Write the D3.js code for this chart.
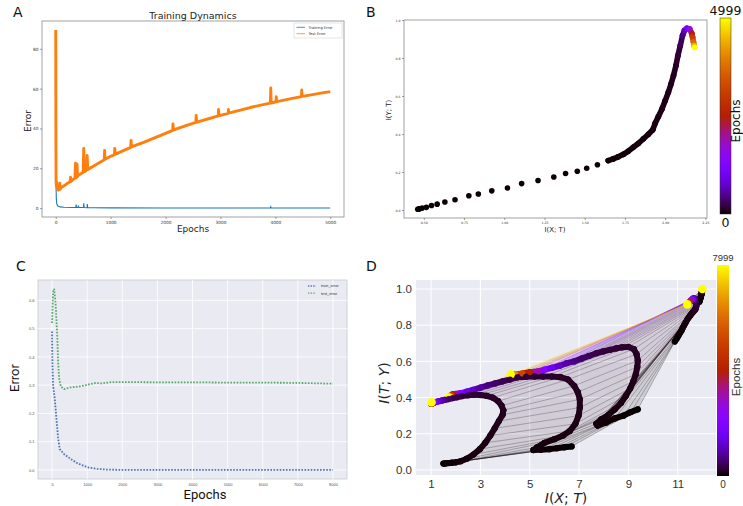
<!DOCTYPE html>
<html><head><meta charset="utf-8">
<script src="https://cdn.jsdelivr.net/npm/d3@7"></script>
<style>body{margin:0;background:#fff}svg{display:block}</style>
</head><body>
<svg id="c" width="743" height="506"></svg>
<script>
// ---------------- DATA ----------------
// Panel A: training dynamics (epoch, error)
const aXTicks = [0,1000,2000,3000,4000,5000];
const aYTicks = [0,20,40,60,80];
const trainErrA = [[0,78],[3,30],[6,12],[10,5],[20,2],[40,1],[80,0.6],[150,0.4],[300,0.3],[365,0.3],[372,1.8],[380,0.4],[405,0.3],[412,1.2],[420,0.3],[505,0.3],[511,2.4],[517,0.3],[570,0.2],[576,2.0],[582,0.2],[700,0.15],[1000,0.1],[2000,0.05],[3910,0.05],[3916,0.6],[3922,0.05],[5000,0.03]];
const testErrA = [[0,89.5],[3,40],[6,14],[12,11],[18,13],[25,10],[50,9],[70,9.4],[75,12.5],[80,9.5],[100,10.3],[150,11.2],[200,12.2],[260,13.2],[270,15.5],[280,13.4],[300,14],[350,15.1],[360,22.5],[368,15.2],[380,15.5],[388,22],[396,15.8],[400,16.3],[450,17.1],[500,18],[510,30],[520,18.3],[560,19],[572,26.5],[584,19.3],[600,19.7],[700,21.3],[800,22.9],[885,24.3],[890,29],[898,24.5],[1000,26],[1070,26.8],[1075,30],[1082,27],[1200,28.5],[1365,30.5],[1372,34],[1380,30.8],[1400,31],[1600,33],[1800,35.3],[2000,37.5],[2130,39],[2136,42.3],[2144,39.2],[2200,39.8],[2400,41.7],[2552,43],[2558,46.5],[2565,43.1],[2600,43.4],[2800,45],[2960,46.3],[2965,49.5],[2972,46.5],[3000,46.6],[3140,47.6],[3146,49.5],[3152,47.8],[3200,48.1],[3400,49.5],[3600,50.9],[3800,52.1],[3910,52.7],[3916,60.3],[3923,52.8],[4000,53.3],[4010,53.4],[4016,56],[4022,53.5],[4200,54.5],[4400,55.6],[4475,56],[4480,59.3],[4486,56.1],[4600,56.6],[4800,57.6],[5000,58.5]];

// Panel B: information plane (I(X;T), I(Y;T), epoch)
const bXTicks = [0.5,0.75,1.0,1.25,1.5,1.75,2.0,2.25];
const bYTicks = [0,0.2,0.4,0.6,0.8,1.0];
const bSparse = [[0.4625,0.004,0],[0.4675,0.005,1],[0.472,0.006,2],[0.49,0.01,3],[0.516,0.014,4],[0.548,0.024,5],[0.583,0.031,6],[0.631,0.042,7],[0.694,0.054,8],[0.78,0.075,9],[0.839,0.084,10],[0.9225,0.101,11],[1.02,0.116,12],[1.108,0.139,13],[1.21,0.155,14],[1.308,0.174,15],[1.381,0.192,16],[1.454,0.204,17],[1.5125,0.22,18],[1.579,0.238,20]];
const bDense = [[1.646,0.26,22],[1.677,0.269,24],[1.708,0.28,26],[1.74,0.293,28],[1.77,0.309,30],[1.802,0.33,33],[1.833,0.35,36],[1.865,0.375,40],[1.896,0.399,44],[1.923,0.422,48],[1.938,0.457,53],[1.958,0.492,58],[1.98,0.531,64],[2.0,0.575,70],[2.02,0.62,78],[2.037,0.664,88],[2.052,0.708,100],[2.067,0.76,130],[2.079,0.812,180],[2.094,0.865,260],[2.108,0.918,420],[2.12,0.945,700],[2.135,0.956,1150],[2.152,0.953,1700],[2.165,0.93,2500],[2.17,0.91,3100],[2.176,0.885,3700],[2.18,0.865,4400],[2.183,0.856,4999]];
const bMaxEpoch = 4999;

// Panel C: error curves (epoch, error)
const cXTicks = [0,1000,2000,3000,4000,5000,6000,7000,8000];
const cYTicks = [0,0.1,0.2,0.3,0.4,0.5,0.6];
const trainErrC = [[0,0.49],[10,0.384],[28,0.30],[75,0.255],[123,0.185],[171,0.115],[218,0.074],[342,0.056],[533,0.0386],[724,0.0235],[1010,0.0095],[1295,0.0035],[1580,0.0012],[2000,0.0003],[3000,0],[4000,0],[5000,0],[6000,0],[7000,0],[8000,0]];
const testErrC = [[0,0.52],[30,0.63],[60,0.641],[100,0.59],[130,0.52],[150,0.47],[170,0.39],[200,0.325],[250,0.295],[340,0.286],[530,0.292],[820,0.296],[1100,0.304],[1250,0.308],[1400,0.306],[1700,0.311],[2000,0.311],[3000,0.31],[4000,0.31],[5000,0.309],[6000,0.309],[7000,0.308],[8000,0.305]];

// Panel D: per-layer information plane trajectories (I(X;T), I(T;Y)) at shared epochs
const dXTicks = [1,3,5,7,9,11];
const dYTicks = [0,0.2,0.4,0.6,0.8,1.0];
const dMaxEpoch = 7999;
const epochsD = [0,8,16,24,32,40,50,60,70,80,90,100,112,125,140,155,170,185,200,220,240,260,285,320,380,460,560,700,900,1200,1600,2200,3000,4000,5200,6500,7999];
const layer1 = [[11.88,0.93],[11.89,0.935],[11.9,0.94],[11.91,0.945],[11.92,0.95],[11.93,0.955],[11.94,0.96],[11.95,0.965],[11.96,0.97],[11.97,0.975],[11.97,0.98],[11.98,0.984],[11.98,0.987],[11.99,0.99],[11.99,0.992],[11.99,0.994],[12.0,0.995],[12.0,0.996],[12.0,0.997],[12.0,0.998],[12.0,0.998],[12.0,0.999],[12.0,0.999],[12.0,1.0],[12.0,1.0],[12.0,1.0],[12.0,1.0],[12.0,1.0],[12.0,1.0],[12.0,1.0],[12.0,1.0],[12.0,1.0],[12.0,1.0],[12.0,1.0],[12.0,1.0],[12.0,1.0],[12.0,1.0]];
const layer2 = [[10.88,0.71],[10.95,0.725],[11.02,0.74],[11.08,0.755],[11.15,0.77],[11.2,0.785],[11.26,0.8],[11.32,0.815],[11.38,0.83],[11.44,0.842],[11.5,0.853],[11.55,0.862],[11.6,0.87],[11.64,0.876],[11.67,0.881],[11.7,0.886],[11.72,0.89],[11.73,0.895],[11.74,0.9],[11.75,0.905],[11.75,0.91],[11.75,0.915],[11.74,0.92],[11.73,0.925],[11.72,0.93],[11.71,0.935],[11.7,0.94],[11.68,0.945],[11.66,0.948],[11.63,0.948],[11.6,0.945],[11.56,0.94],[11.52,0.935],[11.48,0.928],[11.44,0.922],[11.41,0.918],[11.39,0.915]];
const layer3 = [[9.38,0.335],[9.1,0.32],[8.8,0.3],[8.45,0.285],[8.1,0.262],[7.75,0.245],[7.7,0.255],[7.9,0.28],[8.2,0.305],[8.45,0.335],[8.7,0.37],[8.9,0.41],[9.07,0.45],[9.2,0.49],[9.3,0.53],[9.36,0.57],[9.38,0.605],[9.33,0.64],[9.22,0.668],[9.0,0.68],[8.75,0.678],[8.5,0.672],[8.25,0.664],[7.98,0.655],[7.7,0.645],[7.4,0.63],[7.1,0.615],[6.8,0.6],[6.5,0.59],[6.2,0.575],[5.9,0.565],[5.6,0.555],[5.35,0.545],[5.0,0.54],[4.7,0.533],[4.4,0.528],[4.23,0.528]];
const layer4 = [[6.7,0.13],[6.4,0.125],[6.1,0.12],[5.8,0.115],[5.45,0.112],[5.15,0.11],[5.3,0.125],[5.6,0.15],[6.0,0.17],[6.35,0.19],[6.62,0.215],[6.85,0.255],[6.98,0.3],[7.03,0.345],[7.03,0.39],[6.95,0.43],[6.8,0.465],[6.55,0.5],[6.25,0.513],[5.9,0.516],[5.55,0.516],[5.2,0.516],[4.85,0.515],[4.5,0.512],[4.2,0.5],[3.9,0.49],[3.6,0.478],[3.3,0.467],[3.0,0.455],[2.7,0.443],[2.45,0.433],[2.2,0.425],[2.0,0.42],[1.88,0.418],[1.82,0.413],[1.77,0.405],[1.73,0.40]];
const layer5 = [[1.5,0.035],[1.55,0.035],[1.62,0.037],[1.72,0.038],[1.85,0.04],[2.0,0.042],[2.2,0.048],[2.45,0.062],[2.72,0.085],[2.98,0.115],[3.2,0.15],[3.4,0.19],[3.58,0.23],[3.75,0.27],[3.9,0.305],[3.93,0.33],[3.86,0.355],[3.72,0.38],[3.5,0.4],[3.25,0.41],[3.0,0.414],[2.75,0.415],[2.5,0.413],[2.25,0.408],[2.05,0.402],[1.88,0.397],[1.72,0.392],[1.58,0.388],[1.45,0.384],[1.33,0.38],[1.22,0.376],[1.13,0.372],[1.06,0.368],[1.02,0.365],[1.0,0.366],[1.01,0.37],[1.02,0.374]];

// ---------------- HELPERS ----------------
function gnuplot(t){
  t = Math.max(0, Math.min(1, t));
  const r = Math.sqrt(t), g = t*t*t, b = Math.max(0, Math.sin(2*Math.PI*t));
  return d3.rgb(r*255, g*255, b*255).formatHex();
}
const svg = d3.select("#c");
const defs = svg.append("defs");
function gradient(id){
  const g = defs.append("linearGradient").attr("id", id).attr("x1",0).attr("y1",1).attr("x2",0).attr("y2",0);
  d3.range(0, 1.0001, 0.02).forEach(t => g.append("stop").attr("offset", t).attr("stop-color", gnuplot(t)));
}
gradient("gnuB"); gradient("gnuD");
function clip(id, x, y, w, h){ defs.append("clipPath").attr("id", id).append("rect").attr("x",x).attr("y",y).attr("width",w).attr("height",h); }
function styleAxis(g, size, family, fill){
  g.select(".domain").remove();
  g.selectAll("text").attr("font-size", size).attr("font-family", family).attr("fill", fill);
  g.selectAll("line").attr("stroke", "#444").attr("stroke-width", 0.5);
}
function txt(x, y, s, size, opts={}){
  const t = svg.append("text").attr("x", x).attr("y", y).text(s)
    .attr("font-size", size).attr("font-family", opts.family || "DejaVu Sans")
    .attr("fill", opts.fill || "#111").attr("text-anchor", opts.anchor || "start");
  if (opts.rotate !== undefined) t.attr("transform", `rotate(${opts.rotate},${x},${y})`);
  return t;
}

// ---------------- PANEL A ----------------
{
  const L=42, R=344, T=21, B=217;
  const x = d3.scaleLinear().domain([-250,5250]).range([L,R]);
  const y = d3.scaleLinear().domain([-4.47,93.97]).range([B,T]);
  clip("clipA", L, T, R-L, B-T);
  const line = d3.line().x(d=>x(d[0])).y(d=>y(d[1]));
  const g = svg.append("g").attr("clip-path","url(#clipA)");
  g.append("path").datum(trainErrA).attr("d", line).attr("fill","none").attr("stroke","#1f77b4").attr("stroke-width",1.1);
  g.append("path").datum(testErrA).attr("d", line).attr("fill","none").attr("stroke","#ff7f0e").attr("stroke-width",2.9).attr("stroke-linejoin","round");
  svg.append("rect").attr("x",L).attr("y",T).attr("width",R-L).attr("height",B-T).attr("fill","none").attr("stroke","#8a8a8a").attr("stroke-width",0.8);
  const ax = svg.append("g").attr("transform",`translate(0,${B})`).call(d3.axisBottom(x).tickValues(aXTicks).tickSize(2).tickPadding(1.5).tickFormat(d3.format("d")));
  styleAxis(ax, 4.3, "DejaVu Sans", "#333");
  const ay = svg.append("g").attr("transform",`translate(${L},0)`).call(d3.axisLeft(y).tickValues(aYTicks).tickSize(2).tickPadding(1.5).tickFormat(d3.format("d")));
  styleAxis(ay, 4.3, "DejaVu Sans", "#333");
  txt(193, 19, "Training Dynamics", 9.5, {anchor:"middle", fill:"#222"});
  txt(193, 232, "Epochs", 9, {anchor:"middle", fill:"#222"});
  txt(30.5, 121, "Error", 9, {anchor:"middle", fill:"#222", rotate:-90});
  txt(13, 17, "A", 14);
  // legend
  svg.append("rect").attr("x",294).attr("y",23).attr("width",48).attr("height",15).attr("fill","#fff").attr("stroke","#ccc").attr("stroke-width",0.5);
  const items = [["Training Error","#1f77b4"],["Test Error","#ff7f0e"]];
  items.forEach((it,i)=>{
    const yy = 27.3 + i*6.4;
    svg.append("line").attr("x1",296.5).attr("x2",305).attr("y1",yy).attr("y2",yy).attr("stroke",it[1]).attr("stroke-width",0.8);
    txt(308.5, yy+1.2, it[0], 3.6, {fill:"#333"});
  });
}

// ---------------- PANEL B ----------------
{
  const L=404, R=707, T=20, B=218;
  const x = d3.scaleLinear().domain([0.377,2.26]).range([L,R]);
  const y = d3.scaleLinear().domain([-0.042,1.0]).range([B,T]);
  const col = d3.scaleLinear().domain([0,bMaxEpoch]).range([0,1]);
  svg.append("rect").attr("x",L).attr("y",T).attr("width",R-L).attr("height",B-T).attr("fill","none").attr("stroke","#8a8a8a").attr("stroke-width",0.8);
  const ax = svg.append("g").attr("transform",`translate(0,${B})`).call(d3.axisBottom(x).tickValues(bXTicks).tickSize(2).tickPadding(1.5).tickFormat(d3.format(".2f")));
  styleAxis(ax, 3.2, "DejaVu Sans", "#333");
  const ay = svg.append("g").attr("transform",`translate(${L},0)`).call(d3.axisLeft(y).tickValues(bYTicks).tickSize(2).tickPadding(1.5).tickFormat(d3.format(".1f")));
  styleAxis(ay, 3.2, "DejaVu Sans", "#333");
  const g = svg.append("g");
  g.append("g").selectAll("circle").data(bSparse).join("circle").attr("cx",d=>x(d[0])).attr("cy",d=>y(d[1])).attr("r",2.8).attr("fill",d=>gnuplot(col(d[2])));
  const segs = d3.pairs(bDense);
  g.append("g").selectAll("line").data(segs).join("line")
    .attr("x1",d=>x(d[0][0])).attr("y1",d=>y(d[0][1])).attr("x2",d=>x(d[1][0])).attr("y2",d=>y(d[1][1]))
    .attr("stroke",d=>gnuplot(col(d[0][2]))).attr("stroke-width",5.6).attr("stroke-linecap","round");
  g.append("g").selectAll("circle").data(bDense).join("circle").attr("cx",d=>x(d[0])).attr("cy",d=>y(d[1])).attr("r",2.8).attr("fill",d=>gnuplot(col(d[2])));
  txt(555, 232, "I(X; T)", 7, {anchor:"middle", fill:"#222"});
  txt(391, 110, "I(Y; T)", 7, {anchor:"middle", fill:"#222", rotate:-90});
  txt(366, 17, "B", 14);
  // colorbar
  svg.append("rect").attr("x",720).attr("y",18).attr("width",11).attr("height",196).attr("fill","url(#gnuB)").attr("stroke","#333").attr("stroke-width",0.5);
  txt(725.5, 15, String(bMaxEpoch), 12.5, {anchor:"middle"});
  txt(725.5, 227, "0", 12.5, {anchor:"middle"});
  txt(740, 121, "Epochs", 12, {anchor:"middle", rotate:-90});
}

// ---------------- PANEL C ----------------
{
  const L=38, R=347, T=280, B=479;
  const x = d3.scaleLinear().domain([-400,8400]).range([L,R]);
  const y = d3.scaleLinear().domain([-0.032,0.672]).range([B,T]);
  svg.append("rect").attr("x",L).attr("y",T).attr("width",R-L).attr("height",B-T).attr("fill","#eaeaf2").attr("stroke","#c8c8cc").attr("stroke-width",0.8);
  const grid = svg.append("g").attr("stroke","#fff").attr("stroke-width",0.8);
  cXTicks.forEach(v=>grid.append("line").attr("x1",x(v)).attr("x2",x(v)).attr("y1",T).attr("y2",B));
  cYTicks.forEach(v=>grid.append("line").attr("y1",y(v)).attr("y2",y(v)).attr("x1",L).attr("x2",R));
  const ax = svg.append("g").attr("transform",`translate(0,${B})`).call(d3.axisBottom(x).tickValues(cXTicks).tickSize(0).tickPadding(4.5).tickFormat(d3.format("d")));
  styleAxis(ax, 4, "Liberation Sans", "#555");
  const ay = svg.append("g").attr("transform",`translate(${L},0)`).call(d3.axisLeft(y).tickValues(cYTicks).tickSize(0).tickPadding(3.5).tickFormat(d3.format(".1f")));
  styleAxis(ay, 4, "Liberation Sans", "#555");
  const line = d3.line().x(d=>x(d[0])).y(d=>y(d[1]));
  svg.append("path").datum(trainErrC).attr("d",line).attr("fill","none").attr("stroke","#4c72b0").attr("stroke-width",1.8).attr("stroke-dasharray","1.6,1.5");
  svg.append("path").datum(testErrC).attr("d",line).attr("fill","none").attr("stroke","#55a868").attr("stroke-width",1.8).attr("stroke-dasharray","1.6,1.5");
  [["train_error","#4c72b0"],["test_error","#55a868"]].forEach((it,i)=>{
    const yy = 286 + i*7.2;
    svg.append("line").attr("x1",308).attr("x2",316).attr("y1",yy).attr("y2",yy).attr("stroke",it[1]).attr("stroke-width",1.3).attr("stroke-dasharray","1.3,1.3");
    txt(321, yy+1.3, it[0], 3.8, {family:"Liberation Sans", fill:"#333"});
  });
  txt(205, 499, "Epochs", 13, {anchor:"middle", family:"Roboto", fill:"#111"});
  txt(19, 378, "Error", 13, {anchor:"middle", family:"Roboto", fill:"#111", rotate:-90});
  txt(16, 271, "C", 14);
}

// ---------------- PANEL D ----------------
{
  const L=416, R=716, T=280, B=475;
  const x = d3.scaleLinear().domain([0.39,12.55]).range([L,R]);
  const y = d3.scaleLinear().domain([-0.028,1.05]).range([B,T]);
  const col = d3.scaleLinear().domain([0,dMaxEpoch]).range([0,1]);
  clip("clipD", L, T, R-L, B-T);
  svg.append("rect").attr("x",L).attr("y",T).attr("width",R-L).attr("height",B-T).attr("fill","#eaeaf2");
  const grid = svg.append("g").attr("stroke","#fff").attr("stroke-width",1);
  dXTicks.forEach(v=>grid.append("line").attr("x1",x(v)).attr("x2",x(v)).attr("y1",T).attr("y2",B));
  dYTicks.forEach(v=>grid.append("line").attr("y1",y(v)).attr("y2",y(v)).attr("x1",L).attr("x2",R));
  const layers = [layer1, layer2, layer3, layer4, layer5];
  const g = svg.append("g").attr("clip-path","url(#clipD)");
  // shaded bands between consecutive epochs (dense connection fan)
  for (let i=0;i<epochsD.length-1;i++){
    for (let k=0;k<layers.length-1;k++){
      const pts = [layers[k][i], layers[k+1][i], layers[k+1][i+1], layers[k][i+1]];
      g.append("polygon").attr("points", pts.map(p=>[x(p[0]),y(p[1])].join(",")).join(" "))
        .attr("fill", gnuplot(col(epochsD[i]))).attr("fill-opacity", 0.12);
    }
  }
  // connections between consecutive layers at each epoch
  epochsD.forEach((ep,i)=>{
    for (let k=0;k<layers.length-1;k++){
      const a = layers[k][i], b = layers[k+1][i];
      g.append("line").attr("x1",x(a[0])).attr("y1",y(a[1])).attr("x2",x(b[0])).attr("y2",y(b[1]))
        .attr("stroke",gnuplot(col(ep))).attr("stroke-width",0.8).attr("stroke-opacity",0.32);
    }
  });
  // trajectories
  layers.forEach(Ly=>{
    const segs = d3.pairs(Ly.map((p,i)=>[p[0],p[1],epochsD[i]]));
    g.append("g").selectAll("line").data(segs).join("line")
      .attr("x1",d=>x(d[0][0])).attr("y1",d=>y(d[0][1])).attr("x2",d=>x(d[1][0])).attr("y2",d=>y(d[1][1]))
      .attr("stroke",d=>gnuplot(col(d[0][2]))).attr("stroke-width",6).attr("stroke-linecap","round");
  });
  layers.forEach(Ly=>{
    g.append("g").selectAll("circle").data(Ly.map((p,i)=>[p[0],p[1],epochsD[i]])).join("circle")
      .attr("cx",d=>x(d[0])).attr("cy",d=>y(d[1])).attr("r",(d,i)=>i===Ly.length-1?4.3:3.1)
      .attr("fill",d=>gnuplot(col(d[2])));
  });
  const ax = svg.append("g").attr("transform",`translate(0,${B})`).call(d3.axisBottom(x).tickValues(dXTicks).tickSize(0).tickPadding(5).tickFormat(d3.format("d")));
  styleAxis(ax, 11.5, "Liberation Sans", "#333");
  const ay = svg.append("g").attr("transform",`translate(${L},0)`).call(d3.axisLeft(y).tickValues(dYTicks).tickSize(0).tickPadding(4).tickFormat(d3.format(".1f")));
  styleAxis(ay, 11.5, "Liberation Sans", "#333");
  // axis labels (math-style italics)
  const xl = svg.append("text").attr("x",566).attr("y",503).attr("text-anchor","middle").attr("font-size",14).attr("font-family","DejaVu Sans").attr("fill","#222");
  [["I",1],["(",0],["X",1],["; ",0],["T",1],[")",0]].forEach(s=>xl.append("tspan").text(s[0]).attr("font-style",s[1]?"italic":"normal"));
  const yl = svg.append("text").attr("x",389).attr("y",383).attr("text-anchor","middle").attr("font-size",14).attr("font-family","DejaVu Sans").attr("fill","#222").attr("transform","rotate(-90,389,383)");
  [["I",1],["(",0],["T",1],["; ",0],["Y",1],[")",0]].forEach(s=>yl.append("tspan").text(s[0]).attr("font-style",s[1]?"italic":"normal"));
  txt(366, 271, "D", 14);
  // colorbar
  svg.append("rect").attr("x",717).attr("y",265).attr("width",12).attr("height",211).attr("fill","url(#gnuD)");
  txt(723, 261, String(dMaxEpoch), 9.5, {anchor:"middle", family:"Liberation Sans", fill:"#333"});
  txt(723, 488, "0", 10, {anchor:"middle", family:"Liberation Sans", fill:"#333"});
  txt(739.5, 377, "Epochs", 11.5, {anchor:"middle", family:"Liberation Sans", fill:"#333", rotate:-90});
}
</script></body></html>
